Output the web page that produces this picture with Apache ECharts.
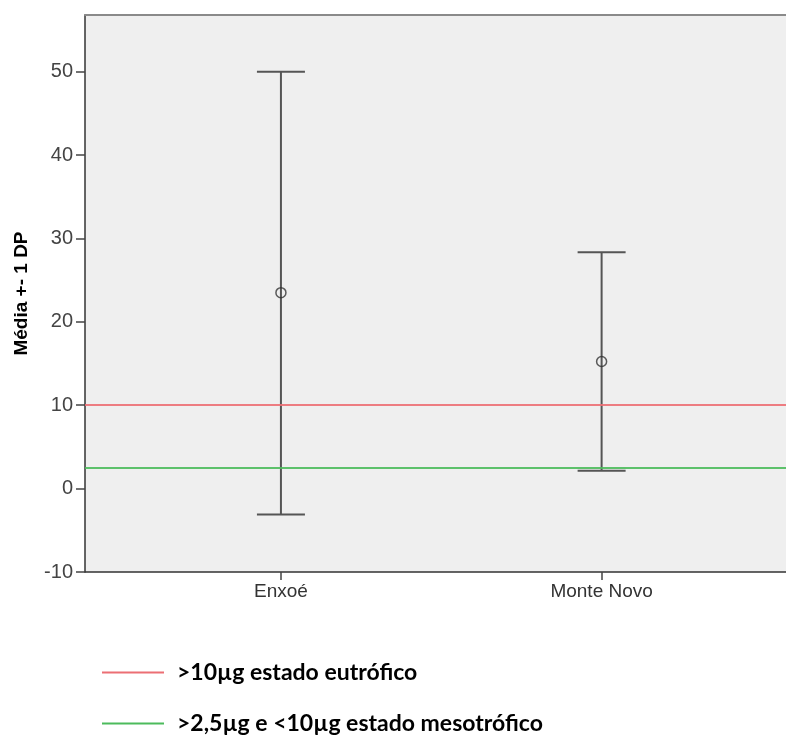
<!DOCTYPE html>
<html>
<head>
<meta charset="utf-8">
<script src="https://cdn.jsdelivr.net/npm/echarts@6/dist/echarts.min.js"></script>
<style>html,body{margin:0;padding:0;background:#fff}#c{width:786px;height:736px}</style>
</head>
<body>
<div id="c"></div>
<script>
const categories = ['Enxoé', 'Monte Novo'];
const means = [23.5, 15.25];
const upper = [50.0, 28.35];
const lower = [-3.1, 2.15];
const yTicks = [-10, 0, 10, 20, 30, 40, 50];
const thresholdNames = ['>10µg estado eutrófico', '>2,5µg e <10µg estado mesotrófico'];
const thresholdValues = [10, 2.5];
const thresholdColors = ['#ec6f74', '#4cbb5c'];

const chart = echarts.init(document.getElementById('c'), null, {renderer: 'canvas'});

const barData = categories.map((c, i) => [i, lower[i], upper[i]]);
const meanData = categories.map((c, i) => [i, means[i]]);

const thresholdSeries = thresholdNames.map((n, k) => ({
  name: n,
  type: 'line',
  data: [],
  symbol: 'none',
  lineStyle: {color: thresholdColors[k], width: 2},
  itemStyle: {color: thresholdColors[k]},
  markLine: {
    silent: true,
    symbol: 'none',
    label: {show: false},
    lineStyle: {color: thresholdColors[k], width: 2, type: 'solid', opacity: 0.9},
    data: [{yAxis: thresholdValues[k]}]
  },
  z: 1
}));

const legendTops = [656, 707];
const legends = thresholdNames.map((n, k) => ({
  left: 97, top: legendTops[k],
  icon: 'rect',
  itemWidth: 62, itemHeight: 2,
  data: [n],
  selectedMode: false,
  textStyle: {fontFamily: 'Lato', fontWeight: 'bold', fontSize: 23, color: '#000', padding: [0, 0, 0, 8]}
}));

chart.setOption({
  animation: false,
  backgroundColor: '#fff',
  grid: {
    left: 85, top: 15, right: 0, bottom: 164,
    show: true, backgroundColor: '#efefef', borderWidth: 0
  },
  xAxis: [{
    type: 'value',
    min: -0.611, max: 1.575,
    splitLine: {show: false},
    axisLine: {show: true, onZero: false, lineStyle: {color: '#333', width: 1.5}},
    axisTick: {show: true, customValues: [0, 1], length: 8, lineStyle: {color: '#444', width: 1.5}},
    axisLabel: {
      customValues: [0, 1],
      formatter: v => categories[Math.round(v)] || '',
      color: '#333', fontFamily: 'Liberation Sans', fontSize: 19, margin: 10
    }
  }, {
    type: 'value',
    position: 'top',
    min: -0.611, max: 1.575,
    splitLine: {show: false},
    axisLine: {show: true, onZero: false, lineStyle: {color: '#8a8a8a', width: 2}},
    axisTick: {show: false},
    axisLabel: {show: false}
  }],
  yAxis: {
    type: 'value',
    min: -10, max: 56.8, interval: 10,
    splitLine: {show: false},
    axisLine: {show: true, onZero: false, lineStyle: {color: '#333', width: 1.5}},
    axisTick: {show: true, customValues: yTicks, length: 9, lineStyle: {color: '#444', width: 1.5}},
    axisLabel: {
      customValues: yTicks,
      color: '#444', fontFamily: 'Liberation Sans', fontSize: 20, margin: 12
    },
    name: 'Média +- 1 DP',
    nameLocation: 'middle',
    nameGap: 54,
    nameRotate: 90,
    nameTextStyle: {fontFamily: 'Liberation Sans', fontWeight: 'bold', fontSize: 19, color: '#000'}
  },
  legend: legends,
  series: [
    ...thresholdSeries,
    {
      name: 'err',
      type: 'custom',
      data: barData,
      z: 3,
      renderItem: (params, api) => {
        const x = api.value(0);
        const lo = api.coord([x, api.value(1)]);
        const hi = api.coord([x, api.value(2)]);
        const hw = 24;
        return {
          type: 'group',
          children: [
            {type: 'line', shape: {x1: lo[0], y1: lo[1], x2: hi[0], y2: hi[1]}, style: {stroke: '#555', lineWidth: 2}},
            {type: 'line', shape: {x1: hi[0] - hw, y1: hi[1], x2: hi[0] + hw, y2: hi[1]}, style: {stroke: '#555', lineWidth: 2}},
            {type: 'line', shape: {x1: lo[0] - hw, y1: lo[1], x2: lo[0] + hw, y2: lo[1]}, style: {stroke: '#555', lineWidth: 2}}
          ]
        };
      }
    },
    {
      name: 'mean',
      type: 'scatter',
      data: meanData,
      symbol: 'circle',
      symbolSize: 10,
      z: 4,
      itemStyle: {color: 'rgba(0,0,0,0)', borderColor: '#333', borderWidth: 1.5}
    }
  ]
});
</script>
</body>
</html>
